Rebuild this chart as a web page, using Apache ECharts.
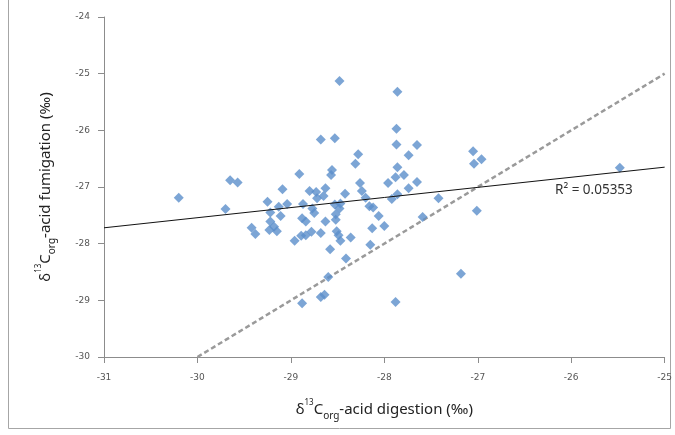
<!DOCTYPE html>
<html>
<head>
<meta charset="utf-8">
<script src="https://cdn.jsdelivr.net/npm/echarts@6/dist/echarts.min.js"></script>
<style>
  html, body { margin: 0; padding: 0; background: #fff; }
  #chart { width: 675px; height: 435px; }
</style>
</head>
<body>
<div id="chart"></div>
<script>
// acid digestion (x) vs acid fumigation (y), per mil
var digestion = [
  -28.48, -27.86, -27.87, -28.68, -28.53, -27.87, -27.65, -27.05, -28.28, -27.74,
  -26.96, -27.04, -28.31, -28.56, -28.57, -27.86, -27.88, -27.79, -28.91, -25.48,
  -27.96, -27.65, -27.74, -28.26, -28.24, -28.42, -28.20, -27.92, -27.86, -27.42,
  -28.16, -28.12, -28.06, -27.59, -27.01, -28.13, -28.00, -28.36, -28.15, -28.58,
  -28.41, -28.60, -28.68, -28.64, -28.88, -27.88, -27.18, -30.20, -29.65, -29.57,
  -29.70, -29.09, -29.25, -29.13, -29.04, -29.22, -29.11, -28.87, -28.88, -29.42,
  -29.38, -29.22, -29.18, -29.15, -29.23, -28.96, -28.89, -28.84, -28.80, -28.73,
  -28.63, -28.72, -28.65, -28.77, -28.75, -28.68, -28.78, -28.84, -28.53, -28.47,
  -28.48, -28.52, -28.63, -28.52, -28.51, -28.49, -28.47
];
var fumigation = [
  -25.13, -25.32, -25.97, -26.16, -26.14, -26.25, -26.26, -26.37, -26.42, -26.44,
  -26.51, -26.59, -26.59, -26.70, -26.79, -26.65, -26.83, -26.79, -26.77, -26.66,
  -26.93, -26.91, -27.02, -26.93, -27.07, -27.12, -27.19, -27.21, -27.13, -27.20,
  -27.34, -27.36, -27.51, -27.53, -27.42, -27.73, -27.69, -27.89, -28.02, -28.10,
  -28.26, -28.59, -28.94, -28.90, -29.05, -29.03, -28.53, -27.19, -26.88, -26.92,
  -27.39, -27.04, -27.26, -27.35, -27.30, -27.45, -27.51, -27.30, -27.55, -27.72,
  -27.83, -27.61, -27.70, -27.78, -27.76, -27.95, -27.86, -27.61, -27.07, -27.09,
  -27.02, -27.20, -27.16, -27.38, -27.46, -27.81, -27.79, -27.85, -27.31, -27.29,
  -27.38, -27.48, -27.61, -27.58, -27.78, -27.85, -27.95
];
var trendLine = [[-31, -27.72], [-25, -26.65]];
var oneToOne = [[-30, -30], [-25, -25]];
var xTicks = [-31, -30, -29, -28, -27, -26, -25];
var yTicks = [-30, -29, -28, -27, -26, -25, -24];
var r2Text = 'R\u00b2 = 0.05353';

var points = digestion.map(function (d, i) {
  return [d, fumigation[i]];
});

var chartDom = echarts.init(document.getElementById('chart'));

var titleRich = {
  a: { fontFamily: 'Noto Sans', fontSize: 15, color: '#222', lineHeight: 22 },
  sup: { fontFamily: 'Noto Sans', fontSize: 8, color: '#222', lineHeight: 22, verticalAlign: 'top', padding: [0, 0, 6, 0] },
  sub: { fontFamily: 'Noto Sans', fontSize: 10, color: '#222', lineHeight: 22, verticalAlign: 'bottom', padding: [8, 0, 0, 0] }
};

var axisCommon = {
  type: 'value',
  interval: 1,
  splitLine: { show: false },
  axisLine: { show: true, onZero: false, lineStyle: { color: '#8c8c8c', width: 1 } },
  axisTick: { show: true, inside: false, length: 6, lineStyle: { color: '#8c8c8c' } },
  axisLabel: { fontFamily: 'DejaVu Sans', fontSize: 9, color: '#555' },
  nameLocation: 'middle',
  nameTextStyle: { rich: titleRich }
};

var option = {
  animation: false,
  backgroundColor: '#fff',
  grid: { left: 104, right: 7, top: 17, bottom: 78 },
  xAxis: Object.assign({}, axisCommon, {
    min: xTicks[0],
    max: xTicks[xTicks.length - 1],
    axisLabel: Object.assign({}, axisCommon.axisLabel, { margin: 16 }),
    name: '{a|\u03b4}{sup|13}{a|C}{sub|org}{a|-acid digestion (\u2030)}',
    nameGap: 42
  }),
  yAxis: Object.assign({}, axisCommon, {
    min: yTicks[0],
    max: yTicks[yTicks.length - 1],
    axisLabel: Object.assign({}, axisCommon.axisLabel, { margin: 14 }),
    name: '{a|\u03b4}{sup|13}{a|C}{sub|org}{a|-acid fumigation (\u2030)}',
    nameGap: 47
  }),
  graphic: [
    {
      type: 'rect',
      silent: true,
      shape: { x: 8.5, y: -2, width: 662, height: 430.5 },
      style: { fill: null, stroke: '#a6a6a6', lineWidth: 1 }
    },
    {
      type: 'text',
      left: 555,
      top: 183,
      style: { text: r2Text, fontFamily: 'Noto Sans', fontSize: 13.5, fill: '#333' }
    }
  ],
  series: [
    {
      type: 'line',
      data: oneToOne,
      symbol: 'none',
      lineStyle: { color: '#9a9a9a', width: 2.5, type: [5, 3] },
      z: 1
    },
    {
      type: 'line',
      data: trendLine,
      symbol: 'none',
      lineStyle: { color: '#111', width: 1 },
      z: 3
    },
    {
      type: 'scatter',
      data: points,
      symbol: 'diamond',
      symbolSize: [10, 10],
      itemStyle: { color: '#5b8fca' },
      z: 2
    }
  ]
};

option && chartDom.setOption(option);
</script>
</body>
</html>
